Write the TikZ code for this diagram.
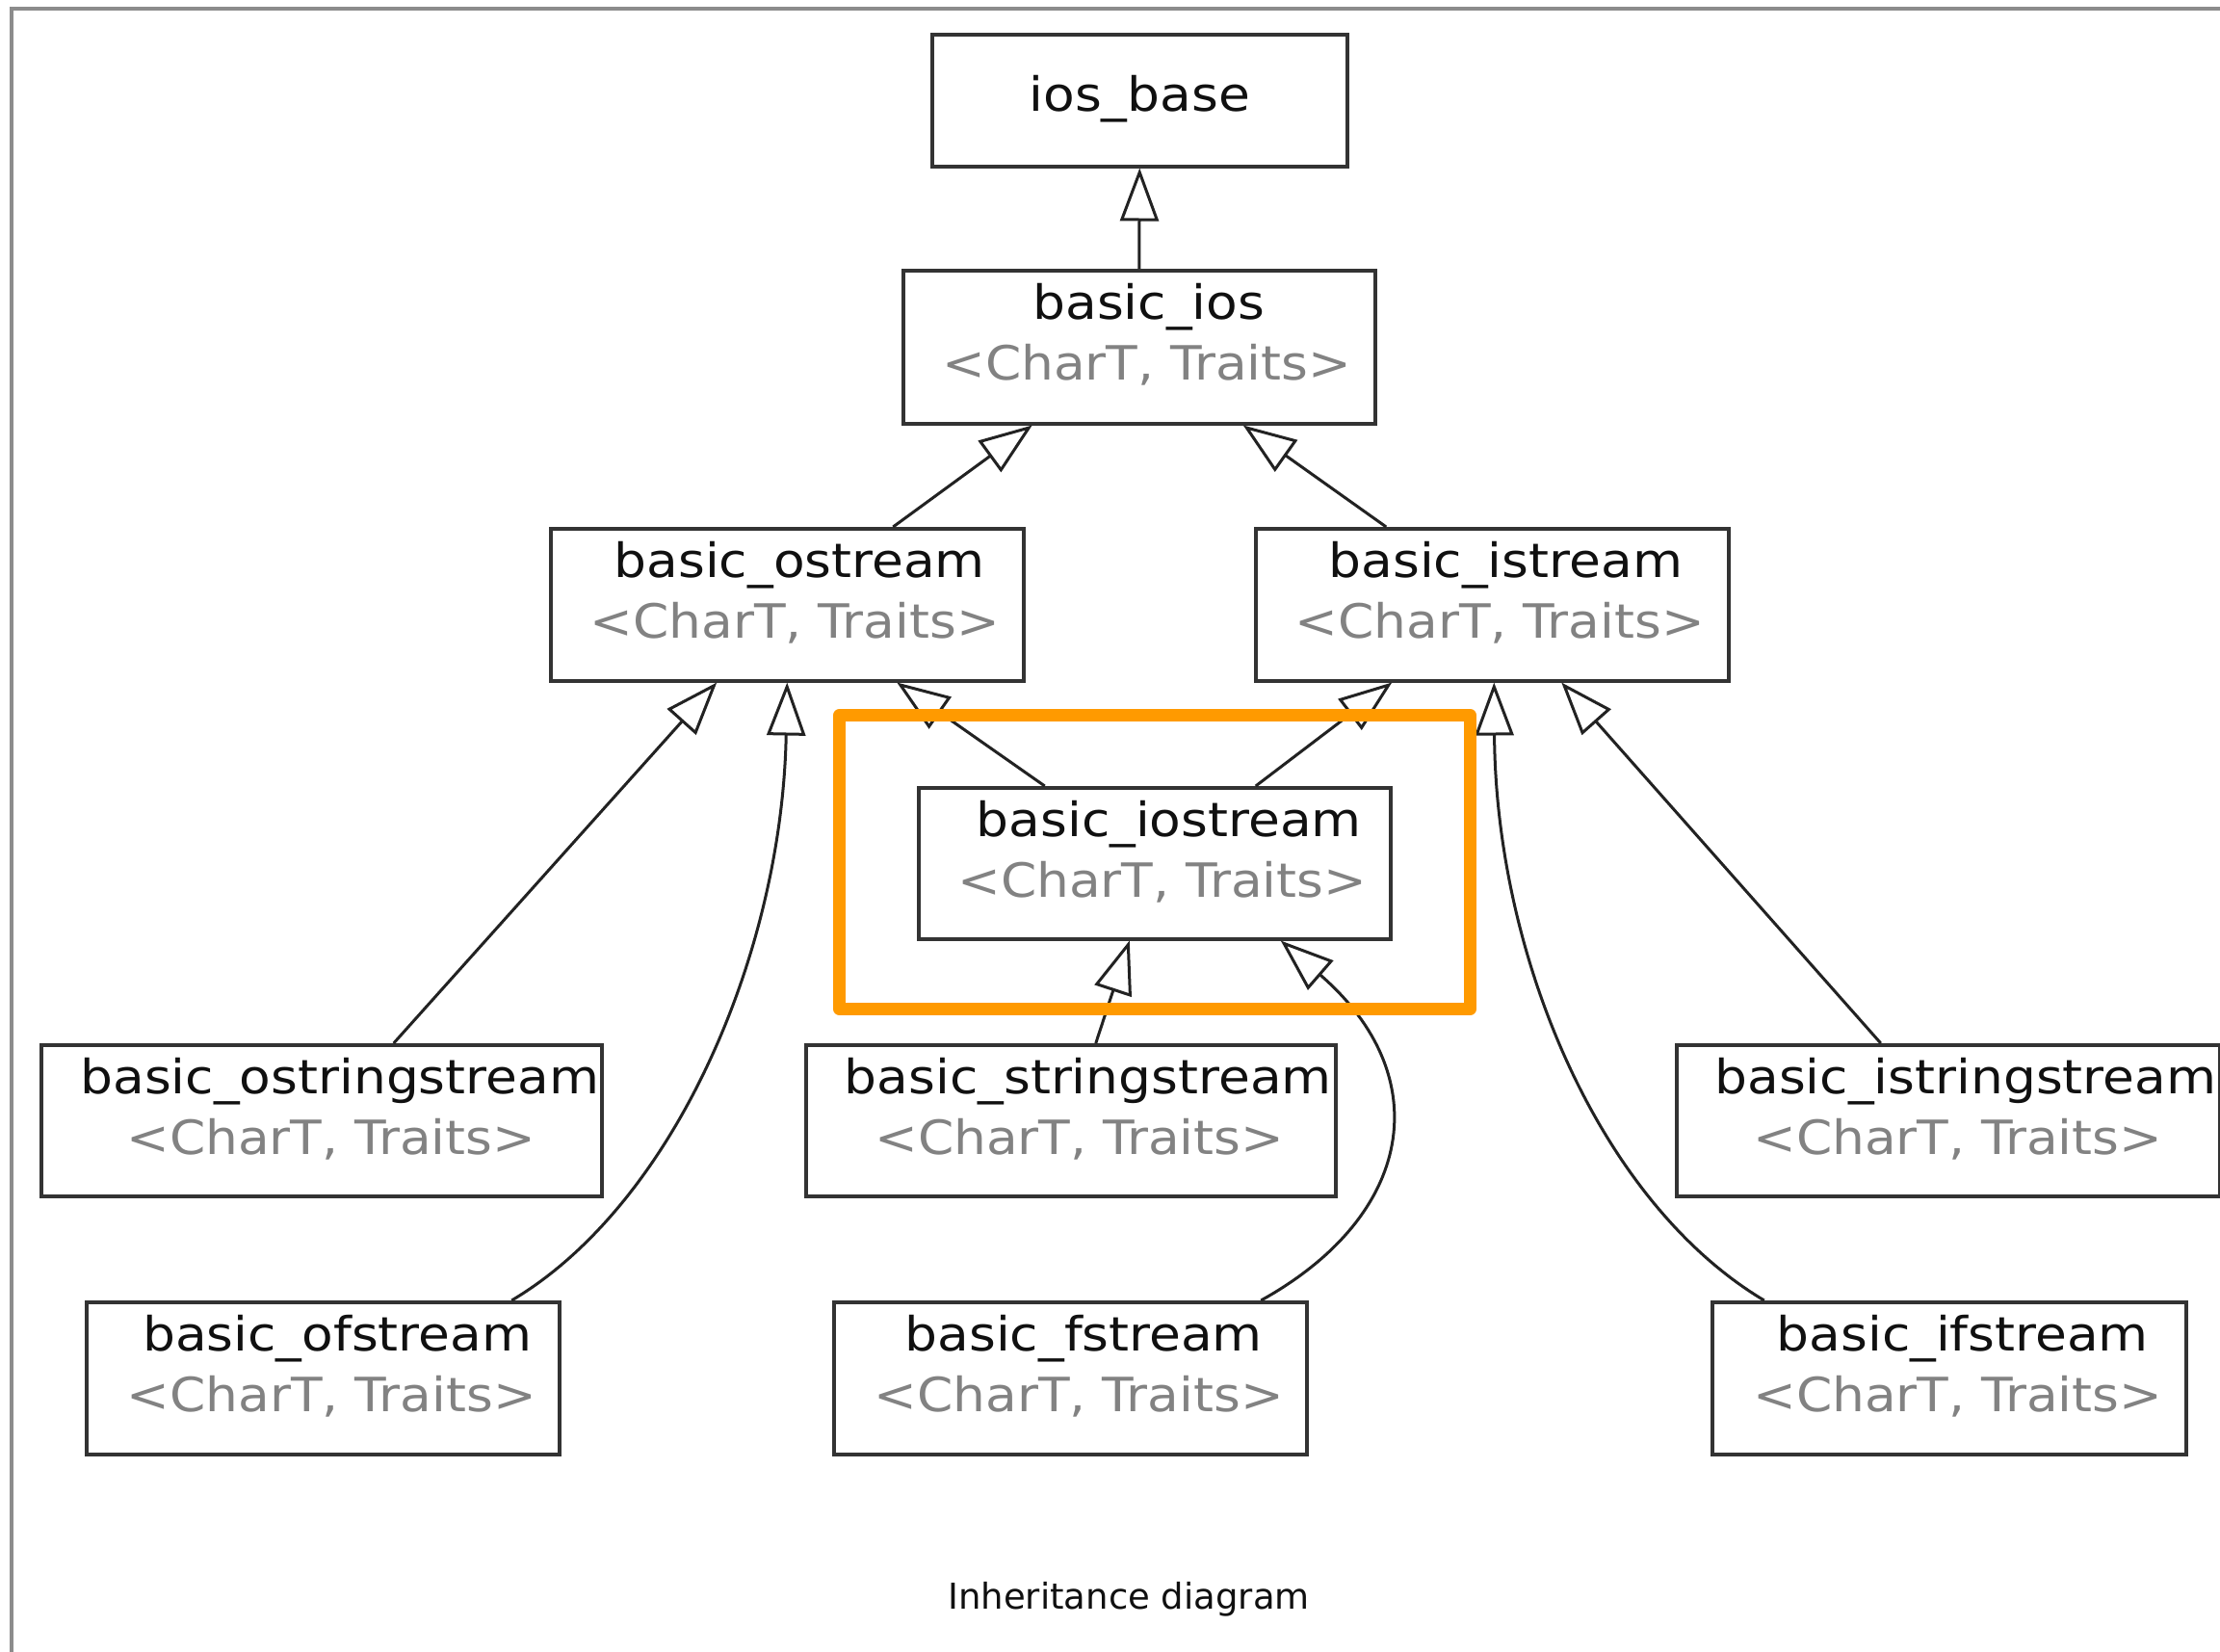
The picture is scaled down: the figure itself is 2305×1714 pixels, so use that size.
\documentclass[tikz,border=0pt]{standalone}
\usepackage{fontspec}
\setmainfont{DejaVu Sans}[FakeStretch=1.09]
\newfontfamily\captionfont{DejaVu Sans}
\usetikzlibrary{arrows.meta}

\definecolor{boxline}{HTML}{333333}
\definecolor{edgeline}{HTML}{222222}
\definecolor{nametext}{HTML}{101010}
\definecolor{tparam}{HTML}{828282}
\definecolor{framegray}{HTML}{8C8C8C}
\definecolor{focusorange}{HTML}{FF9A00}

\newcommand\clsfont{\fontsize{49}{58}\selectfont}

\tikzset{
  cls/.style={draw=boxline, line width=3.5pt, fill=white, inner sep=0pt,
              anchor=north west, minimum width=491pt, minimum height=158pt},
  nm/.style={anchor=base, text=nametext, inner sep=0pt, font=\clsfont},
  tp/.style={anchor=base, text=tparam, inner sep=0pt, font=\clsfont},
  inh/.style={draw=edgeline, line width=3pt,
              -{Triangle[length=55pt, width=40pt, fill=white]}},
  focus/.style={draw=focusorange, line width=13pt, line join=round,
                inner sep=0pt, anchor=north west},
  frame/.style={draw=framegray, line width=4pt},
}

\begin{document}
\begin{tikzpicture}[x=1pt, y=-1pt]
\useasboundingbox (0,0) rectangle (2305,1714);

% outer frame (top and left edges)
\draw[frame] (12,1730) -- (12,9) -- (2320,9);

% class boxes
\node[cls, minimum width=431pt, minimum height=137pt] (iosbase) at (966,34) {};
\node[cls, minimum width=490pt, minimum height=159pt] (ios)   at (936,279) {};
\node[cls] (ostr)  at (570,547) {};
\node[cls] (istr)  at (1302,547) {};
\node[cls, minimum width=490pt, minimum height=157pt] (iostr) at (952,816) {};
\node[cls, minimum width=582pt, minimum height=157pt] (ostrs) at (41,1083) {};
\node[cls, minimum width=550pt, minimum height=157pt] (strs)  at (835,1083) {};
\node[cls, minimum width=564pt, minimum height=157pt] (istrs) at (1739,1083) {};
\node[cls] (ofs) at (88,1350) {};
\node[cls] (fs)  at (864,1350) {};
\node[cls, minimum width=492pt] (ifs) at (1776,1350) {};

% class names and template parameters
\node[nm] (iosbase-n) at ([yshift=-81pt]iosbase.north) {ios\_base};

\node[nm] (ios-n) at ([xshift=10pt,yshift=-52pt]ios.north) {basic\_ios};
\node[tp] (ios-t) at ([xshift=8pt,yshift=-115pt]ios.north) {<CharT, Traits>};

\node[nm] (ostr-n) at ([xshift=13pt,yshift=-52pt]ostr.north) {basic\_ostream};
\node[tp] (ostr-t) at ([xshift=8pt,yshift=-115pt]ostr.north) {<CharT, Traits>};

\node[nm] (istr-n) at ([xshift=14pt,yshift=-52pt]istr.north) {basic\_istream};
\node[tp] (istr-t) at ([xshift=8pt,yshift=-115pt]istr.north) {<CharT, Traits>};

\node[nm] (iostr-n) at ([xshift=15pt,yshift=-52pt]iostr.north) {basic\_iostream};
\node[tp] (iostr-t) at ([xshift=8pt,yshift=-115pt]iostr.north) {<CharT, Traits>};

\node[nm] (ostrs-n) at ([xshift=19pt,yshift=-52pt]ostrs.north) {basic\_ostringstream};
\node[tp] (ostrs-t) at ([xshift=10pt,yshift=-115pt]ostrs.north) {<CharT, Traits>};

\node[nm] (strs-n) at ([xshift=18pt,yshift=-52pt]strs.north) {basic\_stringstream};
\node[tp] (strs-t) at ([xshift=9pt,yshift=-115pt]strs.north) {<CharT, Traits>};

\node[nm] (istrs-n) at ([xshift=18pt,yshift=-52pt]istrs.north) {basic\_istringstream};
\node[tp] (istrs-t) at ([xshift=10pt,yshift=-115pt]istrs.north) {<CharT, Traits>};

\node[nm] (ofs-n) at ([xshift=15pt,yshift=-52pt]ofs.north) {basic\_ofstream};
\node[tp] (ofs-t) at ([xshift=9pt,yshift=-115pt]ofs.north) {<CharT, Traits>};

\node[nm] (fs-n) at ([xshift=14pt,yshift=-52pt]fs.north) {basic\_fstream};
\node[tp] (fs-t) at ([xshift=9pt,yshift=-115pt]fs.north) {<CharT, Traits>};

\node[nm] (ifs-n) at ([xshift=14pt,yshift=-52pt]ifs.north) {basic\_ifstream};
\node[tp] (ifs-t) at ([xshift=9pt,yshift=-115pt]ifs.north) {<CharT, Traits>};

% inheritance arrows (child -> base)
\draw[inh] (ios.north) -- (iosbase.south);
\draw[inh] ([xshift=110pt]ostr.north) -- ([xshift=-111pt]ios.south);
\draw[inh] ([xshift=-110pt]istr.north) -- ([xshift=108pt]ios.south);
\draw[inh] ([xshift=-114pt]iostr.north) -- ([xshift=114pt]ostr.south);
\draw[inh] ([xshift=105pt]iostr.north) -- ([xshift=-104pt]istr.south);
\draw[inh] ([xshift=75pt]ostrs.north) -- ([xshift=-73pt]ostr.south);
\draw[inh] ([xshift=196pt]ofs.north) .. controls (700,1250) and (812,990) .. (ostr.south);
\draw[inh] ([xshift=-70pt]istrs.north) -- ([xshift=72pt]istr.south);
\draw[inh] ([xshift=-192pt]ifs.north) .. controls (1659,1247) and (1553,990) .. ([xshift=2pt]istr.south);
\draw[inh] ([xshift=26pt]strs.north) -- ([xshift=-26pt]iostr.south);
\draw[inh] ([xshift=198pt]fs.north) .. controls (1468,1262) and (1493,1118) .. ([xshift=131pt]iostr.south);

% highlight around basic_iostream
\node[focus, minimum width=655pt, minimum height=305pt] (hl) at (865,736) {};

% caption
\node[anchor=base, inner sep=0pt, text=nametext,
      font=\captionfont\fontsize{37}{44}\selectfont] (caption) at (1172,1670) {Inheritance diagram};
\end{tikzpicture}
\end{document}
